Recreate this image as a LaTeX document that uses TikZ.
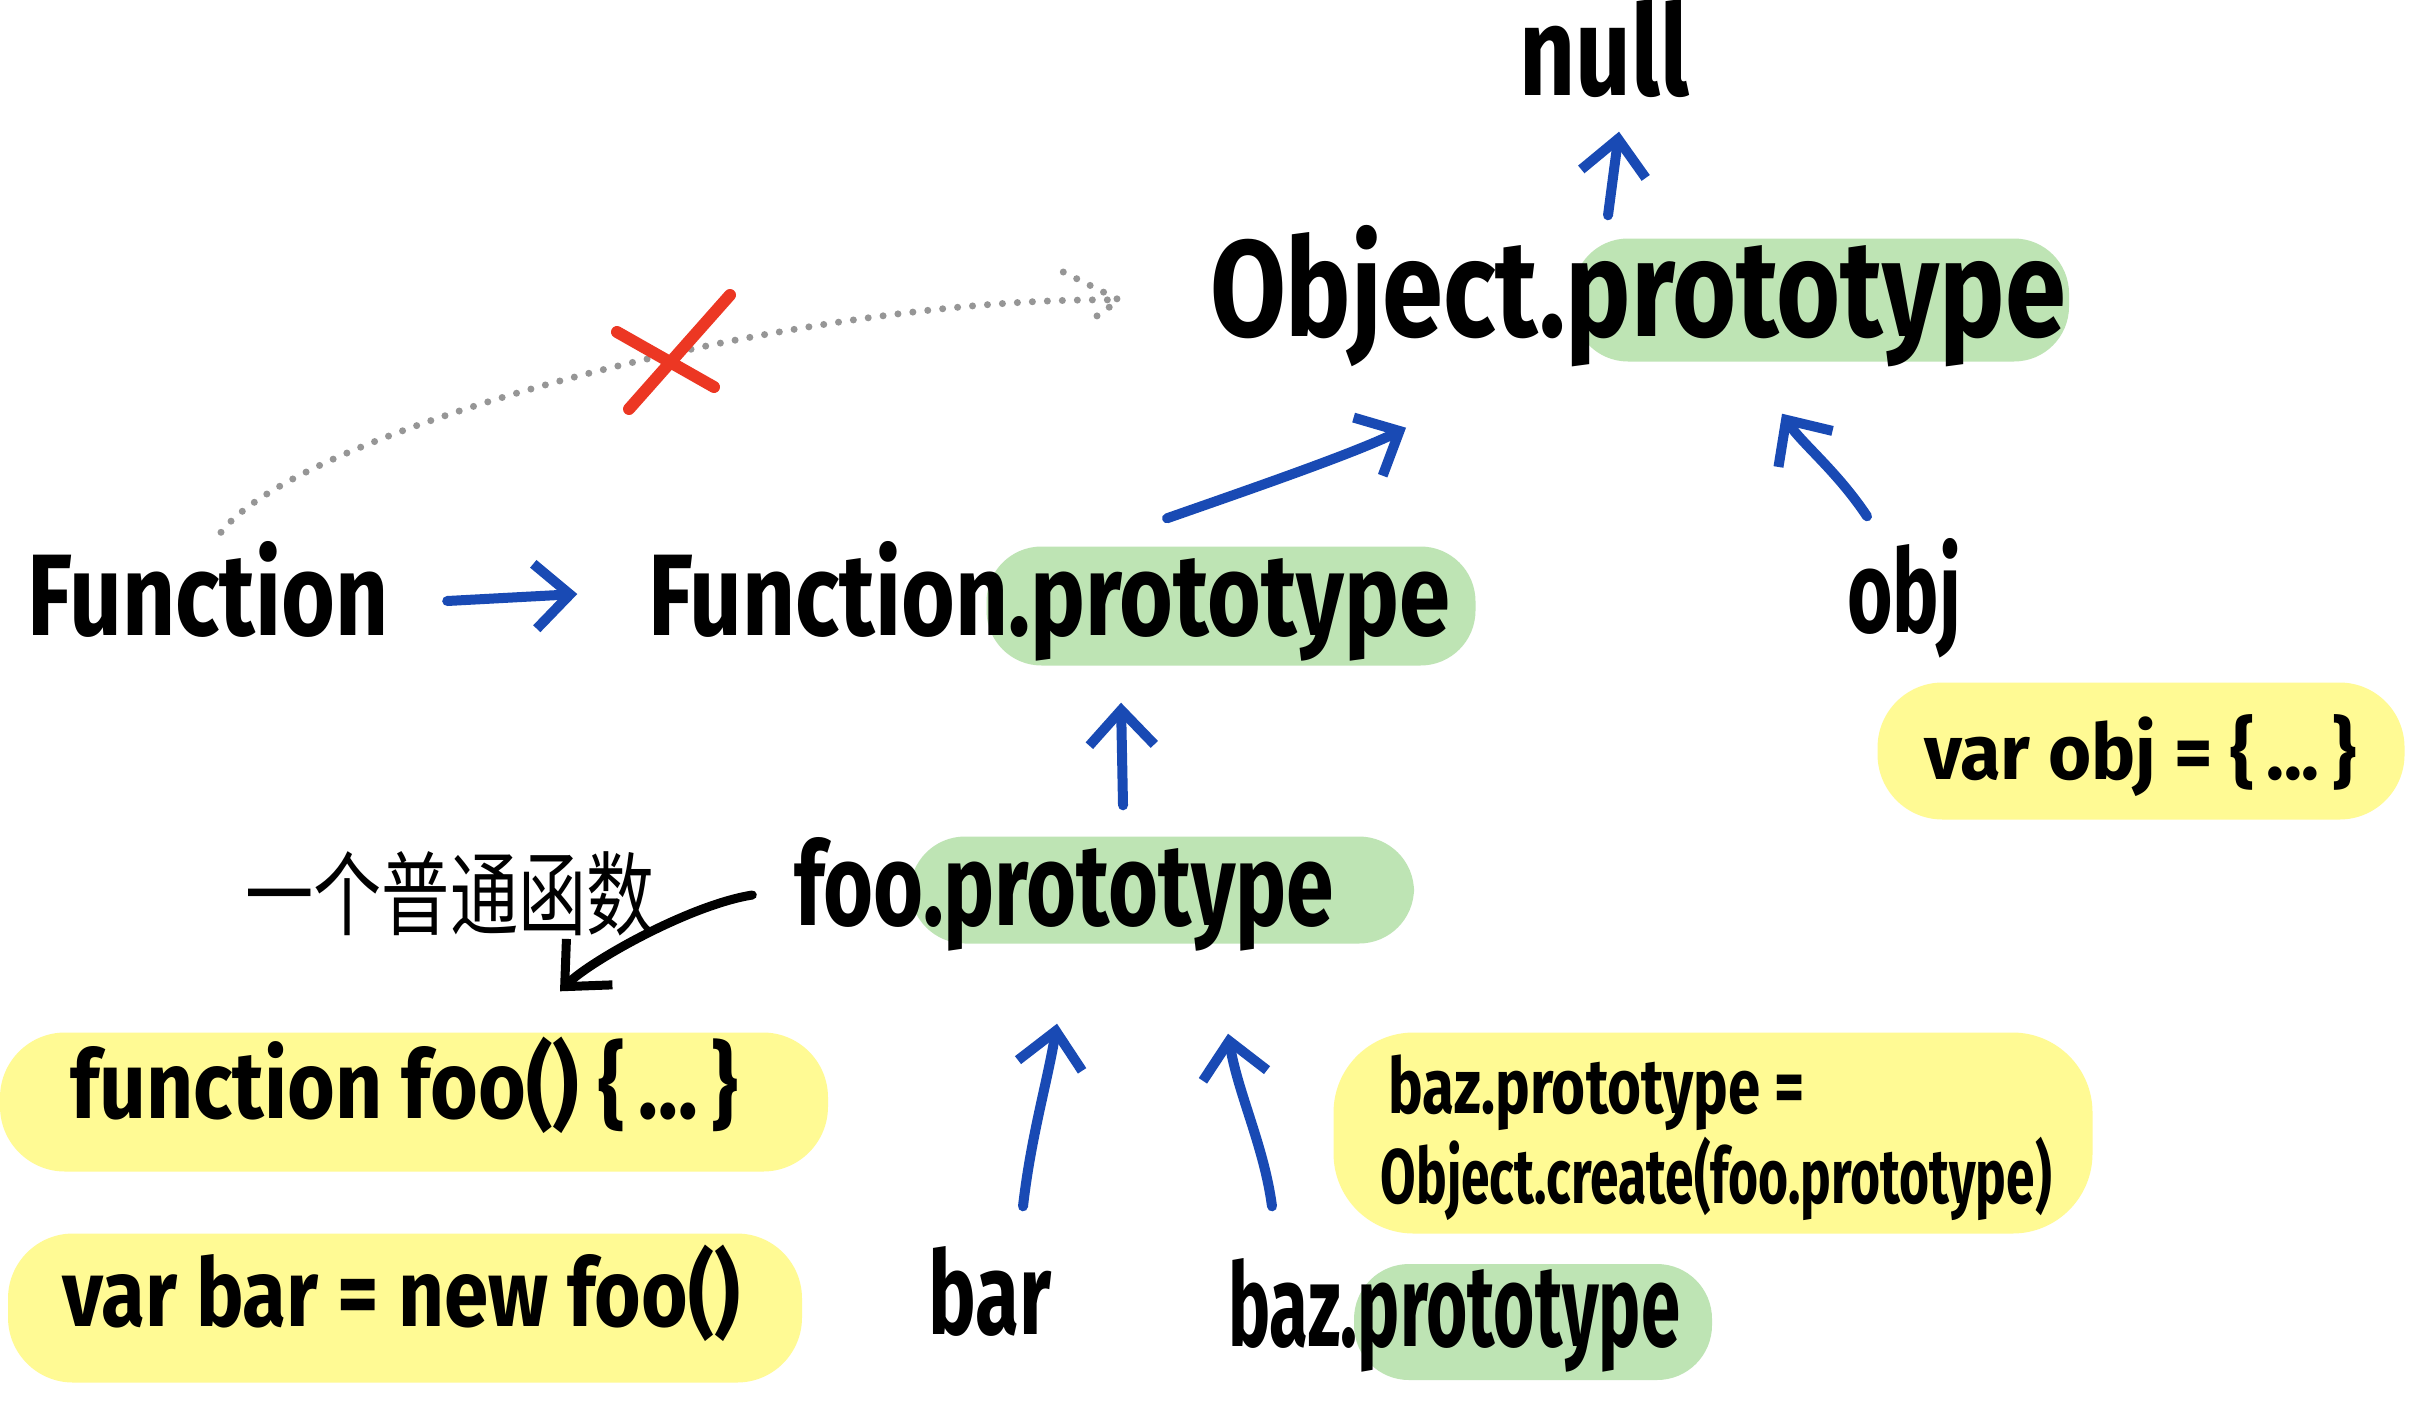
\documentclass[tikz,border=0pt]{standalone}
\usepackage{fontspec}
\setmainfont{Fira Sans}
\newfontfamily\cjk{Noto Sans CJK SC}
\usetikzlibrary{arrows.meta,calc}
\definecolor{hlgreen}{RGB}{190,228,180}
\definecolor{hlyellow}{RGB}{255,250,148}
\definecolor{inkblue}{RGB}{25,74,180}
\definecolor{inkred}{RGB}{236,55,35}
\definecolor{dotgray}{RGB}{150,150,150}
\newcommand{\tw}[2]{\resizebox{#1}{\height}{#2}}
\tikzset{
  hlg/.style={fill=hlgreen, draw=none, rounded corners=5.5mm, inner sep=0pt},
  hly/.style={fill=hlyellow, draw=none, rounded corners=6.5mm, inner sep=0pt},
  bigtxt/.style={inner sep=0pt, anchor=base, font=\fontsize{33}{38}\selectfont\bfseries, text height=9mm, text depth=3mm},
  midtxt/.style={inner sep=0pt, anchor=base, font=\fontsize{27}{32}\selectfont\bfseries, text height=7mm, text depth=2.5mm},
  smalltxt/.style={inner sep=0pt, anchor=base, font=\fontsize{22}{26}\selectfont\bfseries, text height=6mm, text depth=2mm},
  cntxt/.style={inner sep=0pt, font=\cjk\fontsize{26}{30}\selectfont},
  bluearrow/.style={draw=inkblue, line width=1mm, line cap=round, line join=round, -{Straight Barb[length=3.5mm,width=6.5mm,line width=1mm]}},
  blackarrow/.style={draw=black, line width=0.9mm, line cap=round, line join=round, -{Straight Barb[length=3.5mm,width=6.5mm,line width=0.9mm]}},
  dotline/.style={draw=dotgray, line width=0.7mm, line cap=round, dash pattern=on 0pt off 1.5mm},
  redx/.style={draw=inkred, line width=1.2mm, line cap=round}
}
\begin{document}
\begin{tikzpicture}[x=0.1mm,y=-0.1mm]
\useasboundingbox (0,0) rectangle (2418,1422);
\fill[white] (0,0) rectangle (2418,1422);

% highlights
\node[hlg, minimum width=49.6mm, minimum height=12.3mm] (hlobj) at (1821,300) {};
\node[hlg, minimum width=48.9mm, minimum height=11.9mm] (hlfunc) at (1231,606) {};
\node[hlg, minimum width=50.4mm, minimum height=10.7mm] (hlfoo) at (1162,890) {};
\node[hlg, minimum width=35.8mm, minimum height=11.6mm] (hlbaz) at (1533,1322) {};
\node[hly, minimum width=52.7mm, minimum height=13.7mm] (hlobjlit) at (2141,751) {};
\node[hly, minimum width=82.8mm, minimum height=13.9mm] (hlfoofn) at (414,1102) {};
\node[hly, minimum width=79.4mm, minimum height=14.9mm] (hlbarnew) at (405,1308) {};
\node[hly, minimum width=75.9mm, minimum height=20.1mm, rounded corners=8mm] (hlbazeq) at (1713,1133) {};

% texts
\node[bigtxt, font=\fontsize{36}{40}\selectfont\bfseries] (null) at (1604,96) {\tw{17mm}{null}};
\node[bigtxt, font=\fontsize{39}{44}\selectfont\bfseries] (objp) at (1638,336) {\tw{85.6mm}{Object.prototype}};
\node[bigtxt] (func) at (208,635) {\tw{36.1mm}{Function}};
\node[bigtxt] (funcp) at (1049,635) {\tw{80.2mm}{Function.prototype}};
\node[bigtxt] (obj) at (1904,632) {\tw{11.4mm}{obj}};
\node[smalltxt] (objlit) at (2140,779) {\tw{43.2mm}{var obj = \{\,...\,\}}};
\node[bigtxt] (foop) at (1064,925) {\tw{54mm}{foo.prototype}};
\node[cntxt] (cn) at (450,894) {\tw{40.9mm}{一个普通函数}};
\node[midtxt] (foofn) at (404,1118) {\tw{66.8mm}{function foo() \{\,...\,\}}};
\node[midtxt] (barnew) at (401,1326) {\tw{67.8mm}{var bar = new foo()}};
\node[bigtxt] (bar) at (990,1334) {\tw{12.3mm}{bar}};
\node[bigtxt] (bazp) at (1454,1346) {\tw{45.2mm}{baz.prototype}};
\node[smalltxt, anchor=base west] (bazeq1) at (1388,1113) {\tw{41.6mm}{baz.prototype =}};
\node[smalltxt, anchor=base west] (bazeq2) at (1380,1203) {\tw{67.1mm}{Object.create(foo.prototype)}};

% connectors
\draw[bluearrow] ($(objp.north)+(-30,-30)$) -- ($(null.south)+(15,5)$);
\draw[bluearrow] ($(func.east)+(58,-4)$) -- ($(funcp.west)+(-70,-11)$);
\draw[bluearrow] ($(funcp.north)+(118,-26)$) .. controls +(80,-28) and +(-50,25) .. ($(objp.south)+(-232,61)$);
\draw[bluearrow] ($(obj.north)+(-37,-25)$) .. controls +(-30,-45) and +(20,30) .. ($(objp.south)+(144,47)$);
\draw[bluearrow] ($(foop.north)+(59,-29)$) -- ($(funcp.south)+(72,37)$);
\draw[bluearrow] ($(bar.north)+(33,-37)$) .. controls +(8,-70) and +(-10,60) .. ($(foop.south)+(-7,68)$);
\draw[bluearrow] ($(bazp.north)+(-182,-49)$) .. controls +(-8,-60) and +(10,60) .. ($(foop.south)+(164,78)$);
\draw[blackarrow] ($(foop.west)+(-41,0)$) .. controls +(-63,10) and +(30,-30) .. ($(foofn.north)+(156,-56)$);

% dotted (crossed out) link
\coordinate (dtip) at ($(objp.west)+(-90,-6)$);
\draw[dotline] ($(func.north)+(13,-12)$) .. controls +(79,-103) and +(-320,-5) .. (dtip);
\draw[dotline] ($(dtip)+(-56,-28)$) -- (dtip) -- ($(dtip)+(-28,20)$);
\draw[redx] (730,295) -- (629,409);
\draw[redx] (617,332) -- (714,387);
\end{tikzpicture}
\end{document}
